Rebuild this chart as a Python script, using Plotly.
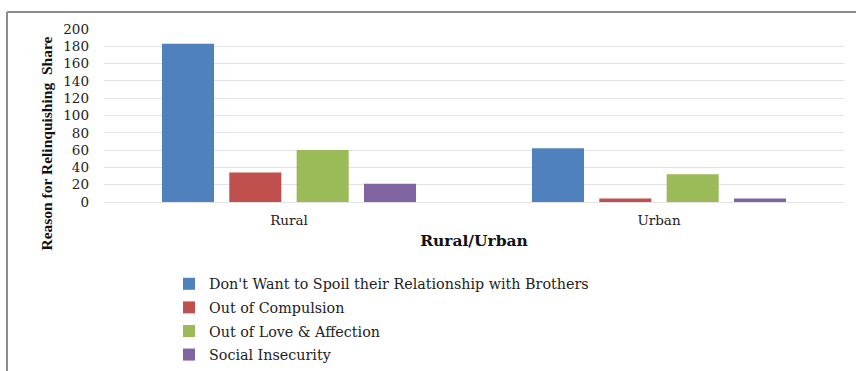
import plotly.graph_objects as go

# Survey results: reasons given for relinquishing a share, by area
areas = ["Rural", "Urban"]
reasons = [
    "Don't Want to Spoil their Relationship with Brothers",
    "Out of Compulsion",
    "Out of Love & Affection",
    "Social Insecurity",
]
relationship = [183, 62]
compulsion = [34, 4]
love_affection = [60, 32]
insecurity = [21, 4]
y_ticks = [0, 20, 40, 60, 80, 100, 120, 140, 160, 180, 200]

series = [relationship, compulsion, love_affection, insecurity]
colors = ["#4F81BD", "#C0504D", "#9BBB59", "#8064A2"]

WIDE_SERIF = "DejaVu Serif, serif"
SERIF = "Liberation Serif, Times New Roman, serif"

fig = go.Figure()
for i, (name, vals, col) in enumerate(zip(reasons, series, colors)):
    fig.add_trace(go.Bar(
        x=areas, y=vals, name=name,
        marker=dict(color=col, line=dict(width=0)),
        legendgroup=f"g{i}",
    ))

W, H = 856, 371
L, R, T, B = 104, 12, 29, 169
pw, ph = W - L - R, H - T - B

fig.update_layout(
    width=W, height=H,
    margin=dict(l=L, r=R, t=T, b=B, autoexpand=False),
    paper_bgcolor="white", plot_bgcolor="white",
    barmode="group", bargap=0.272, bargroupgap=0.227,
    font=dict(family=WIDE_SERIF, color="#222222", size=13.5),
    legend=dict(
        orientation="v", x=(169 - L) / pw, xanchor="left",
        y=1 - (268 - T) / ph, yanchor="top",
        font=dict(family=WIDE_SERIF, size=14.3, color="#222222"),
        tracegroupgap=2, itemwidth=30,
        bgcolor="rgba(0,0,0,0)",
    ),
    showlegend=True,
    xaxis=dict(
        showgrid=False, showline=False, ticks="", zeroline=False,
        ticklabelstandoff=8,
        tickfont=dict(family=WIDE_SERIF, size=13.5, color="#222222"),
        title=dict(text="<b>Rural/Urban</b>", standoff=8,
                   font=dict(family=WIDE_SERIF, size=15.5, color="#111111")),
        automargin=False,
    ),
    yaxis=dict(
        range=[0, 200], tickvals=y_ticks,
        showgrid=True, gridcolor="#E3E3E3", gridwidth=1.3,
        zeroline=True, zerolinecolor="#E3E3E3", zerolinewidth=1.3,
        showline=False, ticks="", ticklabelstandoff=14,
        tickfont=dict(family=WIDE_SERIF, size=13.5, color="#222222"),
        automargin=False,
    ),
)

# Vertical value-axis title, centred on the full chart height
fig.add_annotation(
    text="<b>Reason for Relinquishing  Share</b>", textangle=-90,
    xref="paper", yref="paper",
    x=(45.5 - L) / pw, y=1 - (144 - T) / ph,
    xanchor="center", yanchor="middle", showarrow=False,
    font=dict(family=SERIF, size=15.5, color="#111111"),
)

# Chart frame: left and top edges
fx = (7 - L) / pw
fy = 1 + (T - 12) / ph
fig.add_shape(type="line", xref="paper", yref="paper",
              x0=fx, x1=fx, y0=fy, y1=-(H - T) / ph,
              line=dict(color="#8C8C8C", width=2))
fig.add_shape(type="line", xref="paper", yref="paper",
              x0=fx, x1=(W - L) / pw + 0.01, y0=fy, y1=fy,
              line=dict(color="#8C8C8C", width=2))

fig.write_html("out.html")
